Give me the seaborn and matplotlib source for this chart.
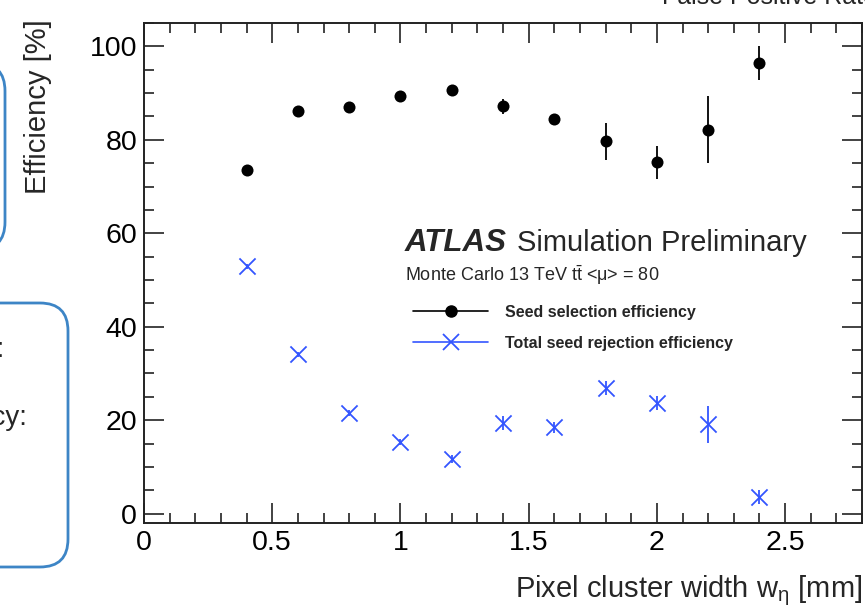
import matplotlib
matplotlib.use("Agg")
import matplotlib.pyplot as plt
from matplotlib.lines import Line2D
from matplotlib.patches import FancyBboxPatch
import seaborn as sns
import pandas as pd

# ---------------- data ----------------
width_mm = [0.4, 0.6, 0.8, 1.0, 1.2, 1.4, 1.6, 1.8, 2.0, 2.2, 2.4]
seed_sel_eff = [73.5, 86.1, 87.0, 89.3, 90.6, 87.2, 84.4, 79.7, 75.2, 82.2, 96.4]
seed_sel_err = [0.6, 0.6, 0.6, 0.7, 0.8, 1.6, 1.0, 4.0, 3.5, 7.2, 3.6]
rej_eff = [52.9, 34.1, 21.5, 15.3, 11.7, 19.4, 18.5, 26.8, 23.6, 19.1, 3.5]
rej_err = [0.5, 0.6, 0.6, 0.7, 0.8, 1.5, 1.2, 1.5, 1.5, 4.0, 1.5]
series_labels = ["Seed selection efficiency", "Total seed rejection efficiency"]
x_ticks = [0, 0.5, 1, 1.5, 2, 2.5]
x_tick_labels = ["0", "0.5", "1", "1.5", "2", "2.5"]
y_ticks = [0, 20, 40, 60, 80, 100]

# ---------------- style ----------------
sns.set_style("ticks")
plt.rcParams["font.family"] = ["Liberation Sans", "DejaVu Sans"]
plt.rcParams["mathtext.fontset"] = "custom"
plt.rcParams["mathtext.rm"] = "Liberation Sans"
plt.rcParams["mathtext.it"] = "Liberation Sans:italic"
plt.rcParams["mathtext.bf"] = "Liberation Sans:bold"

W, H = 865, 606
fig = plt.figure(figsize=(W / 100, H / 100), dpi=100)
fig.patch.set_facecolor("white")
ax = fig.add_axes([144 / W, 1 - 523 / H, (862 - 144) / W, (523 - 23) / H])

BLACK = "#000000"
BLUE = "#3355ff"

df = pd.DataFrame({
    "w": width_mm * 2,
    "eff": seed_sel_eff + rej_eff,
    "err": seed_sel_err + rej_err,
    "series": [series_labels[0]] * len(width_mm) + [series_labels[1]] * len(width_mm),
})

d0 = df[df.series == series_labels[0]]
d1 = df[df.series == series_labels[1]]

ax.errorbar(d0.w, d0.eff, yerr=d0.err, fmt="none", ecolor=BLACK, elinewidth=1.3, capsize=0, zorder=2)
ax.errorbar(d1.w, d1.eff, yerr=d1.err, fmt="none", ecolor=BLUE, elinewidth=1.3, capsize=0, zorder=2)
sns.scatterplot(data=d0, x="w", y="eff", ax=ax, color=BLACK, marker="o", s=75,
                edgecolor=BLACK, linewidth=0, zorder=3, legend=False)
sns.scatterplot(data=d1, x="w", y="eff", ax=ax, color=BLUE, marker="x", s=135,
                linewidth=1.3, zorder=3, legend=False)

ax.set_xlim(0, 2.8)
ax.set_ylim(-2, 105)
ax.set_xticks(x_ticks)
ax.set_xticklabels(x_tick_labels)
ax.set_yticks(y_ticks)
ax.set_yticklabels([str(v) for v in y_ticks])
ax.xaxis.set_minor_locator(matplotlib.ticker.MultipleLocator(0.1))
ax.yaxis.set_minor_locator(matplotlib.ticker.MultipleLocator(5))

for sp in ax.spines.values():
    sp.set_visible(True)
    sp.set_linewidth(1.4)
    sp.set_color("#222222")
ax.tick_params(which="both", direction="in", top=True, right=True, width=1.2, colors="#222222",
               labelcolor="black", labelsize=20.5)
ax.tick_params(which="major", length=14.5, pad=5)
ax.tick_params(which="minor", length=7)
ax.grid(False)

ax.set_xlabel("")
ax.set_ylabel("")
fig.text(862 / W, 1 - 597 / H, r"Pixel cluster width w$_{\mathrm{η}}$ [mm]", ha="right", va="baseline", fontsize=21)
fig.text(38 / W, 1 - 19 / H, "Efficiency [%]", rotation=90, ha="center", va="top", fontsize=21)

# ATLAS label
fig.text(405 / W, 1 - 251 / H, "ATLAS", fontsize=22.5, fontweight="bold", fontstyle="italic", ha="left", va="baseline")
fig.text(517 / W, 1 - 251 / H, "Simulation Preliminary", fontsize=21, ha="left", va="baseline")
fig.text(405 / W, 1 - 281 / H, r"Monte Carlo 13 TeV t$\bar{\mathrm{t}}$ <μ> = 80", fontsize=13, ha="left", va="baseline")

handles = [
    Line2D([], [], color=BLACK, lw=1.2, marker="o", markersize=8),
    Line2D([], [], color=BLUE, lw=1.2, marker="x", markersize=11.5, markeredgewidth=1.3),
]
leg = ax.legend(handles, series_labels, loc="upper left", bbox_to_anchor=(413 / W, 1 - 305 / H),
                bbox_transform=fig.transFigure, frameon=False, borderpad=0, borderaxespad=0,
                handlelength=4.7, handletextpad=1.05, labelspacing=1.0,
                prop={"weight": "bold", "size": 11.5})

# slide decorations (cropped)
box_kw = dict(boxstyle="round,pad=0,rounding_size=28", fill=False, edgecolor="#3d85c6",
              linewidth=2, transform=None, clip_on=False)
b1 = FancyBboxPatch((-200, H - 250), 205, 187, **box_kw)
b2 = FancyBboxPatch((-200, H - 567), 268, 264, **box_kw)
fig.patches.extend([b1, b2])
fig.text(4 / W, 1 - 350 / H, "rate:", ha="right", va="center", fontsize=20)
fig.text(28 / W, 1 - 418 / H, "efficiency:", ha="right", va="center", fontsize=20)
fig.text(662 / W, 1 - 4 / H, "False Positive Rate", ha="left", va="baseline", fontsize=18)

fig.savefig("out.png", dpi=100, facecolor="white")
